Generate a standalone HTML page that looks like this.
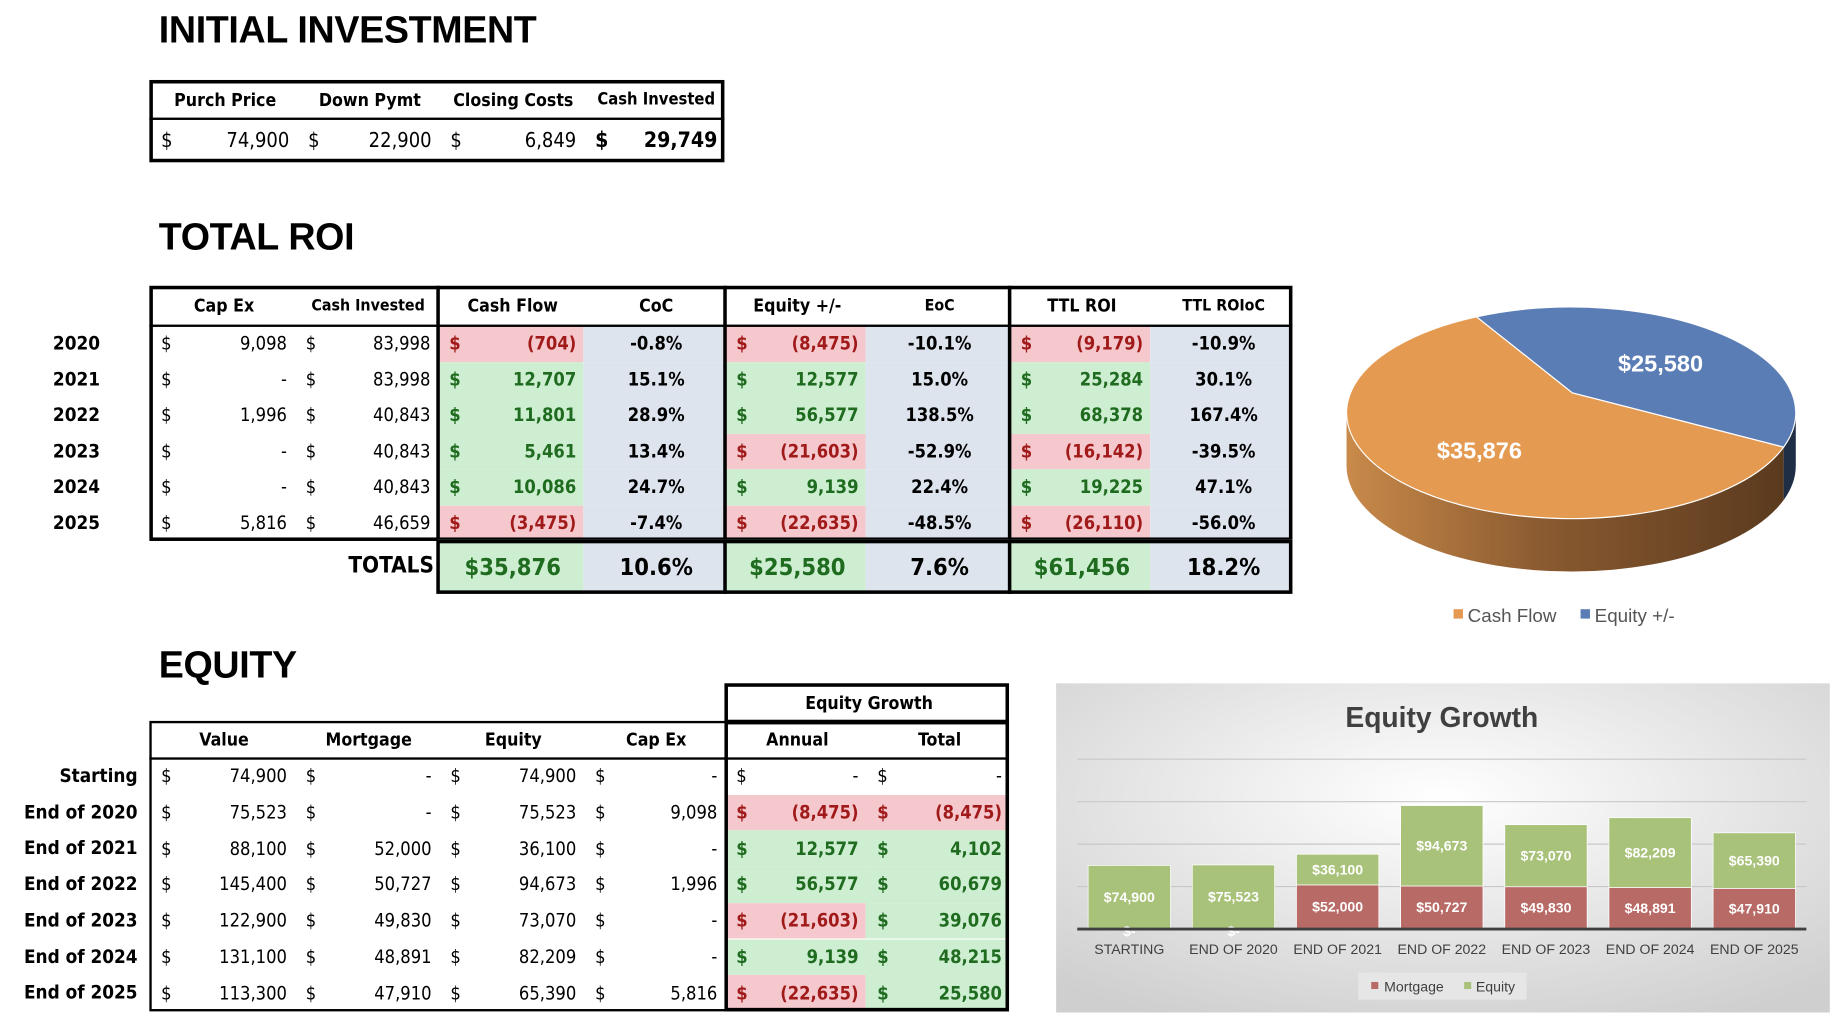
<!DOCTYPE html>
<html><head><meta charset="utf-8">
<style>
html,body{margin:0;padding:0;background:#fff;width:1844px;height:1024px;overflow:hidden}
#page{position:absolute;left:0;top:0;width:1568px;height:871px;transform:scale(1.17602);transform-origin:0 0;font-family:"DejaVu Sans Condensed","DejaVu Sans",sans-serif;color:#000}
.abs{position:absolute;box-sizing:border-box}
.title{position:absolute;font-family:"Liberation Sans",sans-serif;font-weight:bold;font-size:32px;letter-spacing:-0.3px}
.cell{position:absolute;box-sizing:border-box;display:flex;align-items:center;font-size:15.5px;padding:0 6px 0 10px}
.cell .d{flex:0 0 auto}
.cell .v{flex:1;text-align:right}
.hd{justify-content:center;font-weight:bold;font-size:15px}
.lbl{position:absolute;font-weight:bold;font-size:16px}
</style></head><body>
<div id="page">
<div class="title" style="left:135px;top:7px">INITIAL INVESTMENT</div>
<div class="title" style="left:135px;top:183px">TOTAL ROI</div>
<div class="title" style="left:135px;top:547px">EQUITY</div>
<div id="tables"></div>
<svg id="pie" class="abs" style="left:1100px;top:240px" width="468" height="310"></svg>
<svg id="bar" class="abs" style="left:898px;top:581px" width="658" height="280"></svg>
</div>
<script>
// ---------- data ----------
const years=["2020","2021","2022","2023","2024","2025"];
const capEx=[9098,0,1996,0,0,5816];
const cashInv=[83998,83998,40843,40843,40843,46659];
const cashFlow=[-704,12707,11801,5461,10086,-3475];
const coc=["-0.8%","15.1%","28.9%","13.4%","24.7%","-7.4%"];
const eqChange=[-8475,12577,56577,-21603,9139,-22635];
const eoc=["-10.1%","15.0%","138.5%","-52.9%","22.4%","-48.5%"];
const ttlRoi=[-9179,25284,68378,-16142,19225,-26110];
const ttlRoiC=["-10.9%","30.1%","167.4%","-39.5%","47.1%","-56.0%"];
const eqLabels=["Starting","End of 2020","End of 2021","End of 2022","End of 2023","End of 2024","End of 2025"];
const values=[74900,75523,88100,145400,122900,131100,113300];
const mortgage=[0,0,52000,50727,49830,48891,47910];
const equity=[74900,75523,36100,94673,73070,82209,65390];
const eqCapEx=[0,9098,0,1996,0,0,5816];
const annual=[0,-8475,12577,56577,-21603,9139,-22635];
const totalEq=[0,-8475,4102,60679,39076,48215,25580];
const pieLabels=["Cash Flow","Equity +/-"];
const pieValues=[35876,25580];
const barCats=["STARTING","END OF 2020","END OF 2021","END OF 2022","END OF 2023","END OF 2024","END OF 2025"];

const RED_BG="#f5c8cd",RED_TX="#a11a1a",GRN_BG="#cdeed1",GRN_TX="#1f6b1f",BLU_BG="#dde4ee";
const T=document.getElementById('tables');
function fmt(n){if(n===0)return "-";const s=Math.abs(n).toLocaleString('en-US');return n<0?"("+s+")":s;}
function box(x,y,w,h,bw,name){const d=document.createElement('div');d.className='abs';
d.style.cssText=`left:${x}px;top:${y}px;width:${w}px;height:${h}px;border:${bw}px solid #000`;


T.appendChild(d);}
function line(x,y,w,h,name){const d=document.createElement('div');d.className='abs';
d.style.cssText=`left:${x}px;top:${y}px;width:${w}px;height:${h}px;background:#000`;


T.appendChild(d);}
function cell(x,y,w,h,opt,name){const d=document.createElement('div');d.className='cell'+(opt.hd?' hd':'');
let css=`left:${x}px;top:${y}px;width:${w}px;height:${h}px;`;
if(opt.bg)css+=`background:${opt.bg};`;if(opt.color)css+=`color:${opt.color};`;
if(opt.bold)css+='font-weight:bold;';if(opt.fs)css+=`font-size:${opt.fs}px;`;
if(opt.center)css+='justify-content:center;';
d.style.cssText=css;


if(opt.money!==undefined){d.innerHTML=`<span class="d">$</span><span class="v">${opt.money}</span>`;}
else d.textContent=opt.t;
T.appendChild(d);}
function lbl(x,y,t,name,right,fs){const d=document.createElement('div');d.className='lbl';
d.style.cssText=(right?`right:${1568-x}px;top:${y}px;`:`left:${x}px;top:${y}px;`)+(fs?`font-size:${fs}px;`:'');d.textContent=t;


T.appendChild(d);}
function colorFor(n){return n<0?[RED_BG,RED_TX]:[GRN_BG,GRN_TX];}

// ---------- table 1 ----------
(function(){const x0=127,y0=68,cw=[125,121,123,120];const hdr=["Purch Price","Down Pymt","Closing Costs","Cash Invested"];
const vals=["74,900","22,900","6,849","29,749"];let x=x0;
for(let i=0;i<4;i++){cell(x,y0,cw[i],33,{hd:1,t:hdr[i],fs:i==3?14:15},'init-header-'+i);
cell(x,y0+33,cw[i],37,{money:vals[i],bold:i==3,fs:i==3?18:17},'init-value-'+i);x+=cw[i];}
box(x0,y0,489,70,3,'initial-investment-table');line(x0,y0+32,489,2,'init-header-rule');})();

// ---------- table 2 ----------
(function(){const x0=127,y0=243,hh=34,rh=30.5;const cw=[123,122,124,120,120,122,120,121];
const hdr=["Cap Ex","Cash Invested","Cash Flow","CoC","Equity +/-","EoC","TTL ROI","TTL ROIoC"];
const xs=[];let x=x0;cw.forEach(w=>{xs.push(x);x+=w;});
for(let i=0;i<8;i++)cell(xs[i],y0,cw[i],hh,{hd:1,t:hdr[i],fs:(i==1||i==5||i==7)?13.5:15},'roi-header-'+i);
for(let r=0;r<6;r++){const y=y0+hh+r*rh;
lbl(45,y+5,years[r],'roi-year-'+years[r]);
cell(xs[0],y,cw[0],rh,{money:fmt(capEx[r])},'capex-'+r);
cell(xs[1],y,cw[1],rh,{money:fmt(cashInv[r])},'cash-invested-'+r);
let c=colorFor(cashFlow[r]);cell(xs[2],y,cw[2],rh,{money:fmt(cashFlow[r]),bg:c[0],color:c[1],bold:1},'cash-flow-'+r);
cell(xs[3],y,cw[3],rh,{t:coc[r],bg:BLU_BG,bold:1,center:1},'coc-'+r);
c=colorFor(eqChange[r]);cell(xs[4],y,cw[4],rh,{money:fmt(eqChange[r]),bg:c[0],color:c[1],bold:1},'equity-change-'+r);
cell(xs[5],y,cw[5],rh,{t:eoc[r],bg:BLU_BG,bold:1,center:1},'eoc-'+r);
c=colorFor(ttlRoi[r]);cell(xs[6],y,cw[6],rh,{money:fmt(ttlRoi[r]),bg:c[0],color:c[1],bold:1},'ttl-roi-'+r);
cell(xs[7],y,cw[7],rh,{t:ttlRoiC[r],bg:BLU_BG,bold:1,center:1},'ttl-roioc-'+r);}
const h=hh+6*rh;box(x0,y0,972,h,3,'total-roi-table');line(x0,y0+hh-1,972,2,'roi-header-rule');
[2,4,6].forEach(i=>line(xs[i]-1,y0,3,h,'roi-group-divider-'+i));
// totals
const ty=y0+h-1,th=46;lbl(369,ty+11,"TOTALS",'totals-label',true,19);
cell(xs[2],ty,cw[2],th,{t:"$35,876",bg:GRN_BG,color:GRN_TX,bold:1,fs:20,center:1},'total-cash-flow');
cell(xs[3],ty,cw[3],th,{t:"10.6%",bg:BLU_BG,bold:1,fs:20,center:1},'total-coc');
cell(xs[4],ty,cw[4],th,{t:"$25,580",bg:GRN_BG,color:GRN_TX,bold:1,fs:20,center:1},'total-equity');
cell(xs[5],ty,cw[5],th,{t:"7.6%",bg:BLU_BG,bold:1,fs:20,center:1},'total-eoc');
cell(xs[6],ty,cw[6],th,{t:"$61,456",bg:GRN_BG,color:GRN_TX,bold:1,fs:20,center:1},'total-ttl-roi');
cell(xs[7],ty,cw[7],th,{t:"18.2%",bg:BLU_BG,bold:1,fs:20,center:1},'total-ttl-roioc');
box(xs[2]-1,ty,1099-xs[2]+1,th,3,'totals-box');[4,6].forEach(i=>line(xs[i]-1,ty,3,th,'totals-divider-'+i));})();

// ---------- table 3 ----------
(function(){const x0=127,y0=613,hh=32,rh=30.7;const cw=[123,123,123,120,120,122];
const hdr=["Value","Mortgage","Equity","Cap Ex","Annual","Total"];
const xs=[];let x=x0;cw.forEach(w=>{xs.push(x);x+=w;});
cell(616,581,242,33,{hd:1,t:"Equity Growth"},'equity-growth-header');box(616,581,242,34,3,'equity-growth-header-box');
for(let i=0;i<6;i++)cell(xs[i],y0,cw[i],hh,{hd:1,t:hdr[i]},'equity-header-'+i);
for(let r=0;r<7;r++){const y=y0+hh+r*rh;
lbl(117,y+5,eqLabels[r],'equity-row-label-'+r,true);
cell(xs[0],y,cw[0],rh,{money:fmt(values[r])},'value-'+r);
cell(xs[1],y,cw[1],rh,{money:fmt(mortgage[r])},'mortgage-'+r);
cell(xs[2],y,cw[2],rh,{money:fmt(equity[r])},'equity-'+r);
cell(xs[3],y,cw[3],rh,{money:fmt(eqCapEx[r])},'eq-capex-'+r);
let c=annual[r]===0?[null,null]:colorFor(annual[r]);
cell(xs[4],y,cw[4],rh,{money:fmt(annual[r]),bg:c[0],color:c[1],bold:annual[r]!==0},'annual-'+r);
c=totalEq[r]===0?[null,null]:colorFor(totalEq[r]);
cell(xs[5],y,cw[5],rh,{money:fmt(totalEq[r]),bg:c[0],color:c[1],bold:totalEq[r]!==0},'total-eq-'+r);}
const h=hh+7*rh;box(x0,y0,731,h,2,'equity-table');line(x0,y0+hh-1,731,2,'equity-header-rule');
box(616,y0,242,h,3,'equity-growth-box');})();

// ---------- pie ----------
(function(){const svg=document.getElementById('pie');const NS="http://www.w3.org/2000/svg";
const ox=1100,oy=240;const cx=1336-ox,cy=351-oy,rx=191,ry=90,dep=45;const ax=1337-ox,ay=334-oy;
const tot=pieValues.reduce((a,b)=>a+b,0);const frac=pieValues[1]/tot;
const span=frac*360*0.893,mid=-48;const b0=(mid-span/2)*Math.PI/180,b1=(mid+span/2)*Math.PI/180;
const P=a=>[cx+rx*Math.cos(a),cy+ry*Math.sin(a)];
svg.innerHTML=`<defs><linearGradient id="og" x1="0" x2="1"><stop offset="0" stop-color="#c98a4a"/><stop offset="0.45" stop-color="#8a5a30"/><stop offset="1" stop-color="#5a3a1e"/></linearGradient></defs>`;
function add(tag,attrs,name){const e=document.createElementNS(NS,tag);for(const k in attrs)e.setAttribute(k,attrs[k]);


svg.appendChild(e);return e;}
const L=P(Math.PI),e1=P(b1),R=P(0);
add('path',{d:`M${L[0]},${L[1]} L${L[0]},${L[1]+dep} A${rx},${ry} 0 0 0 ${e1[0]},${e1[1]+dep} L${e1[0]},${e1[1]} A${rx},${ry} 0 0 1 ${L[0]},${L[1]} Z`,fill:'url(#og)'},'pie-side-cash-flow');
if(b1>0)add('path',{d:`M${e1[0]},${e1[1]} L${e1[0]},${e1[1]+dep} A${rx},${ry} 0 0 0 ${R[0]},${R[1]+dep} L${R[0]},${R[1]} A${rx},${ry} 0 0 1 ${e1[0]},${e1[1]} Z`,fill:'#1f2d45'},'pie-side-equity');
const s0=P(b0);
add('path',{d:`M${ax},${ay} L${e1[0]},${e1[1]} A${rx},${ry} 0 1 1 ${s0[0]},${s0[1]} Z`,fill:'#e59a52',stroke:'#fff','stroke-width':1},'pie-slice-cash-flow');
add('path',{d:`M${ax},${ay} L${s0[0]},${s0[1]} A${rx},${ry} 0 0 1 ${e1[0]},${e1[1]} Z`,fill:'#5b7db5',stroke:'#fff','stroke-width':1},'pie-slice-equity');
const t1=add('text',{x:1412-ox,y:316-oy,'text-anchor':'middle',fill:'#fff','font-size':20,'font-weight':'bold','font-family':'Liberation Sans, sans-serif'},'pie-label-equity');t1.textContent='$'+pieValues[1].toLocaleString('en-US');
const t2=add('text',{x:1258-ox,y:390-oy,'text-anchor':'middle',fill:'#fff','font-size':20,'font-weight':'bold','font-family':'Liberation Sans, sans-serif'},'pie-label-cash-flow');t2.textContent='$'+pieValues[0].toLocaleString('en-US');
add('rect',{x:1236-ox,y:518-oy,width:8,height:8,fill:'#e59a52'},'legend-swatch-cash-flow');
const l1=add('text',{x:1248-ox,y:529-oy,fill:'#555','font-size':16,'font-family':'Liberation Sans, sans-serif'},'legend-cash-flow');l1.textContent=pieLabels[0];
add('rect',{x:1344-ox,y:518-oy,width:8,height:8,fill:'#5b7db5'},'legend-swatch-equity');
const l2=add('text',{x:1356-ox,y:529-oy,fill:'#555','font-size':16,'font-family':'Liberation Sans, sans-serif'},'legend-equity');l2.textContent=pieLabels[1];})();

// ---------- bar chart ----------
(function(){const svg=document.getElementById('bar');const NS="http://www.w3.org/2000/svg";
const ox=898,oy=581,W=658,H=280;const base=790-oy,pxPer=105/145400;const x0=916-ox,x1=1536-ox;
const step=(x1-x0)/barCats.length,bw=70;
const yS=v=>base-v*pxPer;const xC=i=>x0+step*(i+0.5);
svg.innerHTML=`<defs><radialGradient id="bg" cx="0.5" cy="0.35" r="0.75"><stop offset="0" stop-color="#ffffff"/><stop offset="1" stop-color="#cfcfcf"/></radialGradient></defs>`;
function add(tag,attrs,name){const e=document.createElementNS(NS,tag);for(const k in attrs)e.setAttribute(k,attrs[k]);


svg.appendChild(e);return e;}
add('rect',{x:0,y:0,width:W,height:H,fill:'url(#bg)'},'chart-background');
const tt=add('text',{x:328,y:37,'text-anchor':'middle',fill:'#404040','font-size':24,'font-weight':'bold','font-family':'Liberation Sans, sans-serif'},'chart-title');tt.textContent='Equity Growth';
[50000,100000,150000,200000].forEach((g,i)=>add('line',{x1:x0,x2:x1,y1:yS(g),y2:yS(g),stroke:'#c8c8c8','stroke-width':1},'gridline-'+i));
const F='Liberation Sans Narrow, Liberation Sans, sans-serif';
barCats.forEach((c,i)=>{const cx=xC(i);
const mTop=yS(mortgage[i]),eTop=yS(mortgage[i]+equity[i]);
if(mortgage[i]>0)add('rect',{x:cx-bw/2,y:mTop,width:bw,height:base-mTop,fill:'#b86b66',stroke:'#fff','stroke-width':0.6},'bar-mortgage-'+i);
add('rect',{x:cx-bw/2,y:eTop,width:bw,height:mTop-eTop,fill:'#a9c27a',stroke:'#fff','stroke-width':0.6},'bar-equity-'+i);
const ml=add('text',{x:cx,y:mortgage[i]>0?(mTop+base)/2+4:base+6,'text-anchor':'middle',fill:'#fff','font-size':12,'font-weight':'bold','font-family':F},'label-mortgage-'+i);
ml.textContent=mortgage[i]>0?'$'+mortgage[i].toLocaleString('en-US'):'$-';
const el=add('text',{x:cx,y:(eTop+mTop)/2+4,'text-anchor':'middle',fill:'#fff','font-size':12,'font-weight':'bold','font-family':F},'label-equity-'+i);
el.textContent='$'+equity[i].toLocaleString('en-US');
const cl=add('text',{x:cx,y:807-oy+4,'text-anchor':'middle',fill:'#404040','font-size':12,'font-family':'Liberation Sans, sans-serif'},'category-label-'+i);cl.textContent=c;});
add('line',{x1:x0,x2:x1,y1:base,y2:base,stroke:'#404040','stroke-width':2.5},'x-axis');
add('rect',{x:1155-ox,y:827-oy,width:143,height:23,fill:'#e6e6e6'},'legend-box');
add('rect',{x:1166-ox,y:835-oy,width:6,height:6,fill:'#b86b66'},'legend-swatch-mortgage');
const a=add('text',{x:1177-ox,y:843-oy,fill:'#404040','font-size':12,'font-family':'Liberation Sans, sans-serif'},'legend-mortgage');a.textContent='Mortgage';
add('rect',{x:1245-ox,y:835-oy,width:6,height:6,fill:'#a9c27a'},'legend-swatch-equity');
const b=add('text',{x:1255-ox,y:843-oy,fill:'#404040','font-size':12,'font-family':'Liberation Sans, sans-serif'},'legend-equity-bar');b.textContent='Equity';})();
</script>
</body></html>
